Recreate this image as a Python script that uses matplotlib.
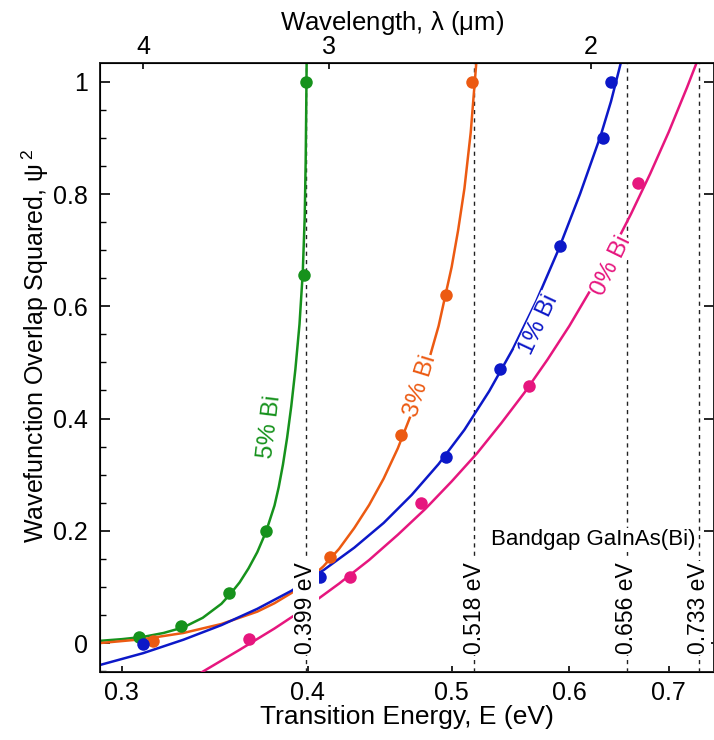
import numpy as np
import matplotlib.pyplot as plt
from matplotlib.ticker import FixedLocator, NullLocator, MultipleLocator

plt.rcParams['font.family'] = ['Liberation Sans', 'DejaVu Sans']
plt.rcParams['mathtext.fontset'] = 'custom'
plt.rcParams['mathtext.rm'] = 'Liberation Sans'
plt.rcParams['mathtext.it'] = 'Liberation Sans'

HC = 1.24  # eV*um, for the wavelength axis

# calculated overlap, one set per Bi content (E in eV, psi^2)
e_5 = [0.308, 0.329, 0.354, 0.375, 0.398, 0.399]
psi_5 = [0.010, 0.031, 0.090, 0.200, 0.656, 1.000]
e_3 = [0.315, 0.414, 0.462, 0.496, 0.516]
psi_3 = [0.004, 0.153, 0.371, 0.620, 1.000]
e_1 = [0.310, 0.408, 0.496, 0.539, 0.591, 0.632, 0.640]
psi_1 = [-0.002, 0.118, 0.332, 0.488, 0.707, 0.900, 1.000]
e_0 = [0.365, 0.427, 0.477, 0.564, 0.667]
psi_0 = [0.008, 0.118, 0.250, 0.458, 0.820]

# fitted curves
fit_e_5 = [0.290, 0.300, 0.310, 0.320, 0.330, 0.340, 0.350, 0.355, 0.360,
           0.365, 0.370, 0.375, 0.380, 0.3825, 0.385, 0.3875, 0.390, 0.3925,
           0.395, 0.397, 0.3982, 0.3988, 0.3991, 0.3994]
fit_psi_5 = [0.004, 0.007, 0.011, 0.018, 0.028, 0.045, 0.070, 0.088, 0.108,
             0.133, 0.162, 0.198, 0.245, 0.278, 0.318, 0.366, 0.422, 0.488,
             0.568, 0.660, 0.758, 0.858, 0.940, 1.035]
fit_e_3 = [0.29, 0.31, 0.33, 0.35, 0.37, 0.38, 0.39, 0.40, 0.41, 0.42, 0.43,
           0.44, 0.45, 0.46, 0.47, 0.48, 0.49, 0.50, 0.505, 0.51, 0.515, 0.5195]
fit_psi_3 = [0.000, 0.007, 0.018, 0.034, 0.056, 0.071, 0.089, 0.111, 0.137,
             0.168, 0.205, 0.246, 0.293, 0.347, 0.410, 0.482, 0.565, 0.670,
             0.735, 0.810, 0.910, 1.035]
fit_e_1 = [0.29, 0.31, 0.33, 0.35, 0.37, 0.39, 0.41, 0.43, 0.45, 0.47,
           0.49, 0.51, 0.53, 0.55, 0.57, 0.59, 0.61, 0.63, 0.64, 0.65]
fit_psi_1 = [-0.039, -0.018, 0.006, 0.032, 0.061, 0.093, 0.130, 0.170, 0.214,
             0.264, 0.319, 0.380, 0.449, 0.525, 0.609, 0.701, 0.800, 0.905,
             0.965, 1.035]
fit_e_0 = [0.338, 0.36, 0.38, 0.40, 0.42, 0.44, 0.46, 0.48, 0.50, 0.52,
           0.54, 0.56, 0.58, 0.60, 0.62, 0.64, 0.66, 0.68, 0.70, 0.72, 0.735]
fit_psi_0 = [-0.055, -0.012, 0.026, 0.065, 0.106, 0.148, 0.193, 0.239,
             0.288, 0.338, 0.392, 0.447, 0.505, 0.565, 0.629, 0.695, 0.764,
             0.836, 0.911, 0.990, 1.051]

# GaInAs(Bi) band gaps, eV
gaps = [0.399, 0.518, 0.656, 0.733]

series = [
    ('5% Bi', '#16921c', e_5, psi_5, fit_e_5, fit_psi_5, (0.3772, 0.385), 83),
    ('3% Bi', '#ec5a12', e_3, psi_3, fit_e_3, fit_psi_3, (0.4768, 0.458), 73),
    ('1% Bi', '#0c18c8', e_1, psi_1, fit_e_1, fit_psi_1, (0.5720, 0.568), 65),
    ('0% Bi', '#e6167e', e_0, psi_0, fit_e_0, fit_psi_0, (0.6402, 0.672), 64),
]

fig = plt.figure(figsize=(7.14, 7.40), dpi=100)
ax = fig.add_axes([0.1401, 0.0923, 0.8606, 0.8222])

for name, c, e, p, fe, fp, pos, rot in series:
    ax.plot(fe, fp, color=c, lw=1.8, zorder=3)
    ax.plot(e, p, 'o', color=c, ms=9, mec='none', zorder=4)
    ax.text(pos[0], pos[1], name, color=c, fontsize=17.5, rotation=rot,
            rotation_mode='anchor', ha='center', va='center', zorder=5,
            bbox=dict(fc='white', ec='none', pad=0.5))

for g in gaps:
    ax.axvline(g, color='#222222', ls=(0, (3, 3)), lw=1.0, zorder=2)
    ax.text(g, 0.063, f'{g:.3f} eV', rotation=90, ha='center', va='center',
            fontsize=16.5, zorder=6, bbox=dict(fc='white', ec='none', pad=1))

ax.text(0.7295, 0.184, 'Bandgap GaInAs(Bi)', ha='right', va='center',
        fontsize=16, zorder=6, bbox=dict(fc='white', ec='none', pad=1))

ax.set_xscale('log')
ax.set_xlim(0.29, 0.7513)
ax.set_ylim(-0.051, 1.033)
ax.xaxis.set_major_locator(FixedLocator([0.3, 0.4, 0.5, 0.6, 0.7]))
ax.xaxis.set_minor_locator(NullLocator())
ax.set_xticklabels(['0.3', '0.4', '0.5', '0.6', '0.7'])
ax.yaxis.set_major_locator(FixedLocator([0, 0.2, 0.4, 0.6, 0.8, 1.0]))
ax.set_yticklabels(['0', '0.2', '0.4', '0.6', '0.8', '1'])
ax.yaxis.set_minor_locator(MultipleLocator(0.05))
ax.tick_params(axis='x', direction='in', length=4, width=1.2, labelsize=18, pad=7)
ax.tick_params(axis='y', which='major', direction='in', length=7, width=1.2,
               labelsize=18, right=True, pad=9)
ax.tick_params(axis='y', which='minor', direction='in', length=4, width=1.0,
               right=False)
for s in ax.spines.values():
    s.set_linewidth(1.4)
    s.set_color('#222222')

ax.set_xlabel('Transition Energy, E (eV)', fontsize=19, labelpad=0)
ax.set_ylabel(r'Wavefunction Overlap Squared, $\psi^{\,2}$', fontsize=18,
              labelpad=1, y=0.535)

# wavelength scale on top
top = ax.twiny()
top.set_xscale('log')
top.set_xlim(ax.get_xlim())
lam = [4, 3, 2]
top.xaxis.set_major_locator(FixedLocator([HC / l for l in lam]))
top.xaxis.set_minor_locator(NullLocator())
top.set_xticklabels([str(l) for l in lam])
top.tick_params(axis='x', direction='in', length=4, width=1.2, labelsize=18, pad=3)
top.set_xlabel(r'Wavelength, $\lambda$ ($\mu$m)', fontsize=18.5, labelpad=4,
               x=0.475)

fig.savefig('out.png', dpi=100)
